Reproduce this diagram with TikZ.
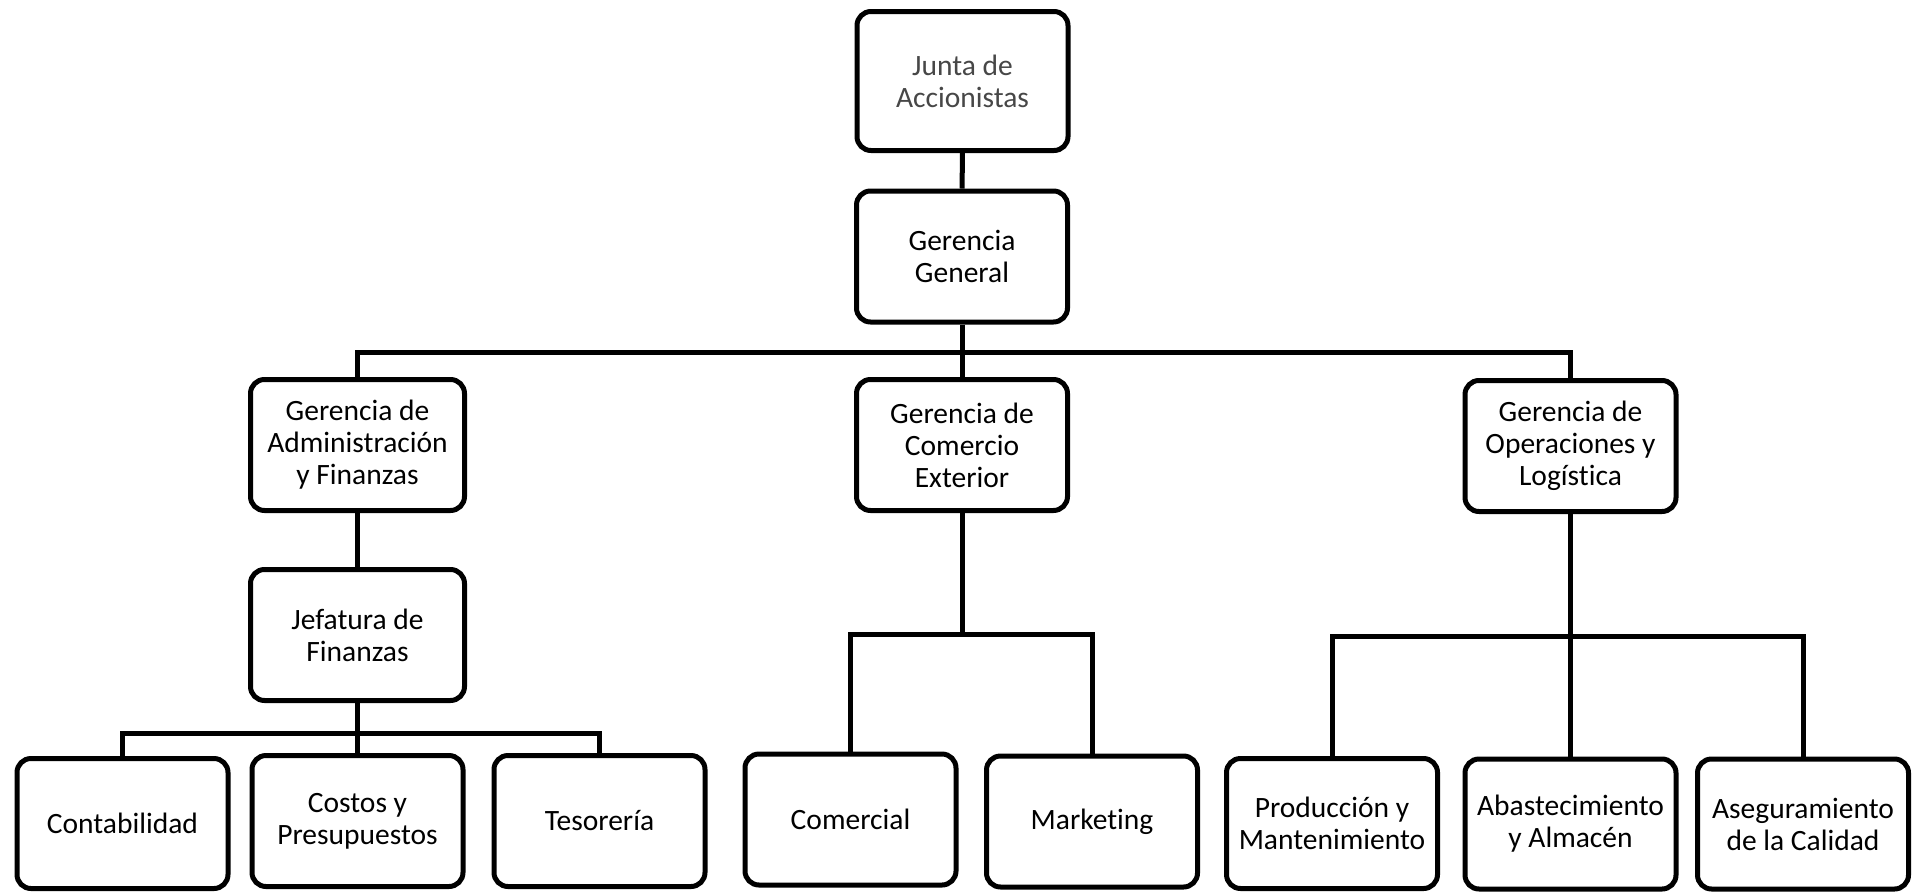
\documentclass[tikz,border=0pt]{standalone}
\usepackage{fontspec}
\setmainfont[Ligatures=NoCommon]{Carlito}
\begin{document}
\begin{tikzpicture}[x=1pt,y=-1pt,
  box/.style={draw=black,line width=5pt,rounded corners=14pt,fill=white,
    minimum width=211pt,minimum height=131pt,align=center,inner sep=1pt,
    font=\fontsize{29.5}{32}\selectfont},
  link/.style={draw=black,line width=5pt}]
\useasboundingbox (0,0) rectangle (1925,892);
% top levels
\node[box,minimum height=139pt,text=black!72] (junta) at (962.5,81) {Junta de\\Accionistas};
\node[box] (gg) at (962,256.5) {Gerencia\\General};
% managements
\node[box,minimum width=214pt] (adm) at (357.5,445) {Gerencia de\\Administración\\y Finanzas};
\node[box] (com) at (962,445) {Gerencia de\\Comercio\\Exterior};
\node[box] (ope) at (1570.5,446) {Gerencia de\\Operaciones y\\Logística};
\node[box,minimum width=214pt] (jef) at (357.5,635) {Jefatura de\\Finanzas};
% units
\node[box,minimum height=130pt] (cont) at (122.5,823.5) {Contabilidad};
\node[box] (cost) at (357.5,821) {Costos y\\Presupuestos};
\node[box] (teso) at (599.5,821) {Tesorería};
\node[box] (comc) at (850.5,819.5) {Comercial};
\node[box] (mkt) at (1092,821.5) {Marketing};
\node[box,minimum height=130pt] (prod) at (1332,823.5) {Producción y\\Mantenimiento};
\node[box,minimum height=130pt] (abas) at (1570.5,824) {Abastecimiento\\y Almacén};
\node[box,minimum height=130pt] (aseg) at (1803,824) {Aseguramiento\\de la Calidad};
% bus points
\coordinate (b1) at (962,352);
\coordinate (b2) at (357.5,733);
\coordinate (b3) at (962,634);
\coordinate (b4) at (1570.5,636);
% connectors
\draw[link] (junta) -- (gg);
\draw[link] (gg.south) -- (com.north);
\draw[link] (adm.north) |- (b1) -| (ope.north);
\draw[link] (adm) -- (jef);
\draw[link] (jef.south) -- (cost.north);
\draw[link] (cont.north) |- (b2) -| (teso.north);
\draw[link] (com.south) -- (b3);
\draw[link] (comc.north) |- (b3) -| (mkt.north);
\draw[link] (ope.south) -- (abas.north);
\draw[link] (prod.north) |- (b4) -| (aseg.north);
\end{tikzpicture}
\end{document}
